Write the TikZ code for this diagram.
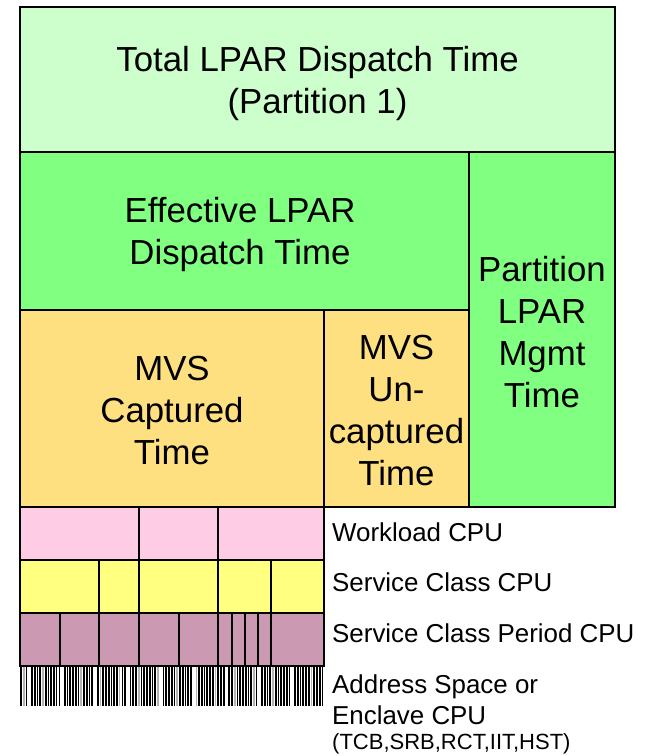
\documentclass[tikz,border=0pt]{standalone}
\usepackage{fontspec}
\setmainfont{Liberation Sans}
\definecolor{totalc}{HTML}{CCFFCC}
\definecolor{effc}{HTML}{80FF80}
\definecolor{mvsc}{HTML}{FFE080}
\definecolor{wlc}{HTML}{FFCCE6}
\definecolor{scc}{HTML}{FFFF80}
\definecolor{perc}{HTML}{CC99B3}
\begin{document}
\begin{tikzpicture}[x=1pt,y=-1pt,
  box/.style={draw=black,line width=2pt},
  bigtxt/.style={align=center,font=\fontsize{34.8}{42}\selectfont,inner sep=0pt},
  lbl/.style={anchor=west,font=\fontsize{25.9}{31}\selectfont,inner sep=0pt},
  bar/.style={line width=1.7pt}]
\useasboundingbox (0,0) rectangle (645,756);
% main boxes
\filldraw[box,fill=totalc] (20,7) rectangle (615,152);
\filldraw[box,fill=effc] (20,152) rectangle (469,310);
\filldraw[box,fill=effc] (469,152) rectangle (615,507);
\filldraw[box,fill=mvsc] (20,310) rectangle (324,507);
\filldraw[box,fill=mvsc] (324,310) rectangle (469,507);
\node[bigtxt] (total) at (317.5,83) {Total LPAR Dispatch Time\\(Partition 1)};
\node[bigtxt] (eff) at (240,234) {Effective LPAR\\Dispatch Time};
\node[bigtxt] (part) at (542,332) {Partition\\LPAR\\Mgmt\\Time};
\node[bigtxt] (cap) at (172,411) {MVS\\Captured\\Time};
\node[bigtxt] (uncap) at (396.5,411) {MVS\\Un-\\captured\\Time};
% workload row
\foreach \a/\b in {20/139,139/218,218/324}
  \filldraw[box,fill=wlc] (\a,507) rectangle (\b,560);
% service class row
\foreach \a/\b in {20/99,99/139,139/218,218/271,271/324}
  \filldraw[box,fill=scc] (\a,560) rectangle (\b,613);
% period row
\foreach \a/\b in {20/60,60/99,99/139,139/179,179/218,218/232,232/245,245/258,258/271,271/324}
  \filldraw[box,fill=perc] (\a,613) rectangle (\b,666);
% address space barcode
\foreach \i in {0,...,110}{
  \pgfmathsetmacro\xx{21+\i*2.74}
  \pgfmathtruncatemacro\sk{mod(\i*7+3,12)}
  \pgfmathtruncatemacro\gr{mod(\i*5+2,7)}
  \ifnum\sk=0\relax\else
    \ifnum\gr=0
      \draw[bar,gray!60] (\xx,667) -- (\xx,706);
    \else
      \draw[bar,black] (\xx,667) -- (\xx,706);
    \fi
  \fi
}
\node[lbl] (wl) at (332,532) {Workload CPU};
\node[lbl] (sc) at (332,582) {Service Class CPU};
\node[lbl] (scp) at (332,633) {Service Class Period CPU};
\node[lbl,align=left] (as) at (332,699.5) {Address Space or\\Enclave CPU};
\node[anchor=west,inner sep=0pt,font=\fontsize{22}{26}\selectfont] (asx) at (332,744) {(TCB,SRB,RCT,IIT,HST)};
\end{tikzpicture}
\end{document}
